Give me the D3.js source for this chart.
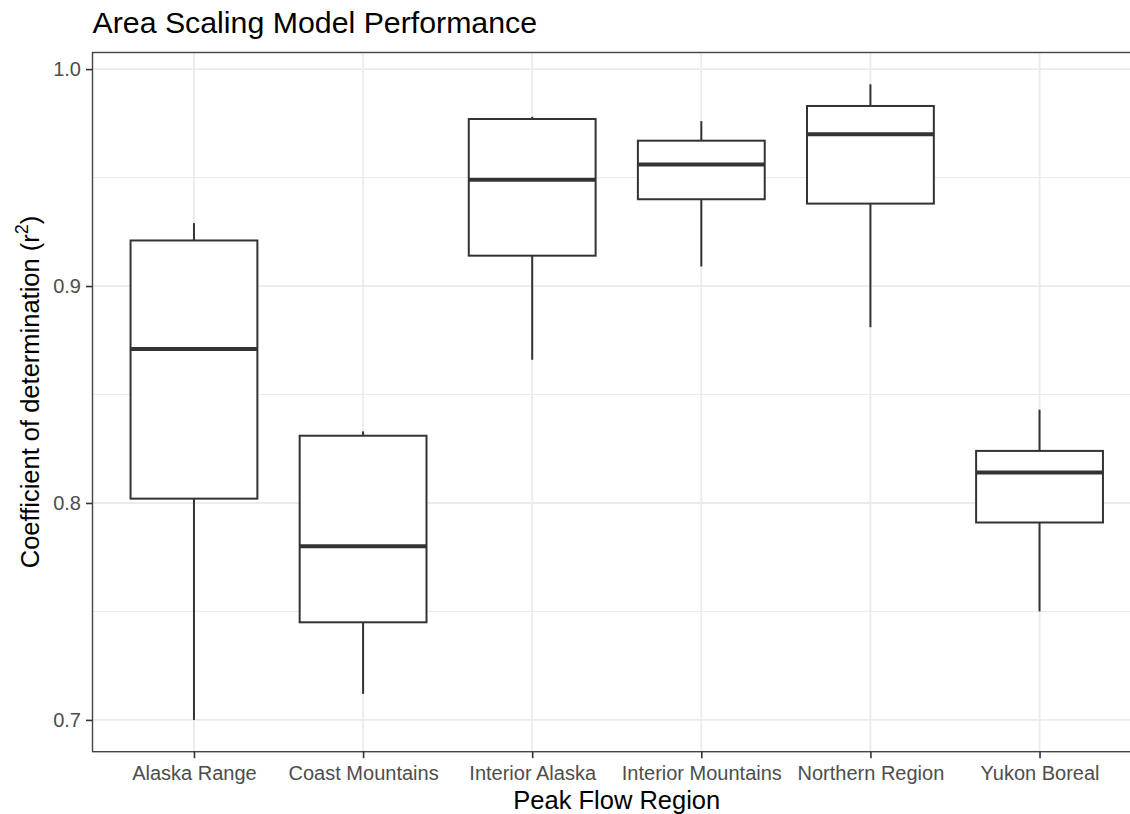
<!DOCTYPE html>
<html>
<head>
<meta charset="utf-8">
<script src="https://cdn.jsdelivr.net/npm/d3@7"></script>
<style>
  html, body { margin: 0; padding: 0; background: #fff; }
  svg { display: block; }
  text { font-family: "Liberation Sans", Arial, sans-serif; }
</style>
</head>
<body>
<svg id="chart" width="1130" height="814"></svg>
<script>
// Five-number summaries of r² per peak flow region
const regions = ["Alaska Range", "Coast Mountains", "Interior Alaska", "Interior Mountains", "Northern Region", "Yukon Boreal"];
const whiskerLow  = [0.700, 0.712, 0.866, 0.909, 0.881, 0.750];
const q1          = [0.802, 0.745, 0.914, 0.940, 0.938, 0.791];
const median      = [0.871, 0.780, 0.949, 0.956, 0.970, 0.814];
const q3          = [0.921, 0.831, 0.977, 0.967, 0.983, 0.824];
const whiskerHigh = [0.929, 0.833, 0.978, 0.976, 0.993, 0.843];

const majorTicks = [0.7, 0.8, 0.9, 1.0];
const minorTicks = [0.75, 0.85, 0.95];
const tickLabels = ["0.7", "0.8", "0.9", "1.0"];

const svg = d3.select("#chart");
const panel = { left: 92.5, right: 1141, top: 52.5, bottom: 751.7 };

// y domain with 5% expansion around the data range
const yMin = d3.min(whiskerLow), yMax = d3.max(whiskerHigh);
const pad = (yMax - yMin) * 0.05;
const y = d3.scaleLinear().domain([yMin - pad, yMax + pad]).range([panel.bottom, panel.top]);
const x = d3.scalePoint().domain(regions).range([panel.left, panel.right]).padding(0.6);
const boxW = x.step() * 0.75;

const grid = svg.append("g");
// minor grid
grid.selectAll("line.minor").data(minorTicks).join("line")
  .attr("x1", panel.left).attr("x2", panel.right)
  .attr("y1", d => y(d)).attr("y2", d => y(d))
  .attr("stroke", "#EBEBEB").attr("stroke-width", 1);
// major grid
grid.selectAll("line.majy").data(majorTicks).join("line")
  .attr("x1", panel.left).attr("x2", panel.right)
  .attr("y1", d => y(d)).attr("y2", d => y(d))
  .attr("stroke", "#EBEBEB").attr("stroke-width", 1.8);
grid.selectAll("line.majx").data(regions).join("line")
  .attr("x1", d => x(d)).attr("x2", d => x(d))
  .attr("y1", panel.top).attr("y2", panel.bottom)
  .attr("stroke", "#EBEBEB").attr("stroke-width", 1.8);

// boxes
const rows = regions.map((r, i) => ({ r, lo: whiskerLow[i], q1: q1[i], med: median[i], q3: q3[i], hi: whiskerHigh[i] }));
const boxes = svg.append("g").selectAll("g").data(rows).join("g");
boxes.append("line")
  .attr("x1", d => x(d.r)).attr("x2", d => x(d.r))
  .attr("y1", d => y(d.q3)).attr("y2", d => y(d.hi))
  .attr("stroke", "#333").attr("stroke-width", 2);
boxes.append("line")
  .attr("x1", d => x(d.r)).attr("x2", d => x(d.r))
  .attr("y1", d => y(d.q1)).attr("y2", d => y(d.lo))
  .attr("stroke", "#333").attr("stroke-width", 2);
boxes.append("rect")
  .attr("x", d => x(d.r) - boxW / 2).attr("width", boxW)
  .attr("y", d => y(d.q3)).attr("height", d => y(d.q1) - y(d.q3))
  .attr("fill", "#fff").attr("stroke", "#333").attr("stroke-width", 2);
boxes.append("line")
  .attr("x1", d => x(d.r) - boxW / 2).attr("x2", d => x(d.r) + boxW / 2)
  .attr("y1", d => y(d.med)).attr("y2", d => y(d.med))
  .attr("stroke", "#333").attr("stroke-width", 4);

// panel border
svg.append("rect")
  .attr("x", panel.left).attr("y", panel.top)
  .attr("width", panel.right - panel.left).attr("height", panel.bottom - panel.top)
  .attr("fill", "none").attr("stroke", "#444").attr("stroke-width", 1.4);

// axes
const yAxis = d3.axisLeft(y).tickValues(majorTicks).tickFormat((d, i) => tickLabels[i]).tickSize(6.5).tickPadding(5);
const gy = svg.append("g").attr("transform", `translate(${panel.left},0)`).call(yAxis);
const xAxis = d3.axisBottom(x).tickSize(6.5).tickPadding(7.5);
const gx = svg.append("g").attr("transform", `translate(0,${panel.bottom})`).call(xAxis);
[gy, gx].forEach(g => {
  g.select(".domain").remove();
  g.selectAll(".tick line").attr("stroke", "#333").attr("stroke-width", 1.6);
  g.selectAll(".tick text").attr("fill", "#4D4D4D").style("font-size", "20px")
    .style("font-family", '"Liberation Sans", Arial, sans-serif');
});

// titles
svg.append("text").attr("x", panel.left).attr("y", 33)
  .style("font-size", "30.3px").attr("fill", "#000")
  .text("Area Scaling Model Performance");
svg.append("text").attr("x", (panel.left + panel.right) / 2).attr("y", 809)
  .attr("text-anchor", "middle").style("font-size", "25.5px").attr("fill", "#000")
  .text("Peak Flow Region");
const yt = svg.append("text")
  .attr("transform", `translate(39,392) rotate(-90)`)
  .attr("text-anchor", "middle").style("font-size", "25.5px").attr("fill", "#000");
yt.append("tspan").text("Coefficient of determination (r");
yt.append("tspan").attr("dy", -11).style("font-size", "18px").text("2");
yt.append("tspan").attr("dy", 11).text(")");
</script>
</body>
</html>
